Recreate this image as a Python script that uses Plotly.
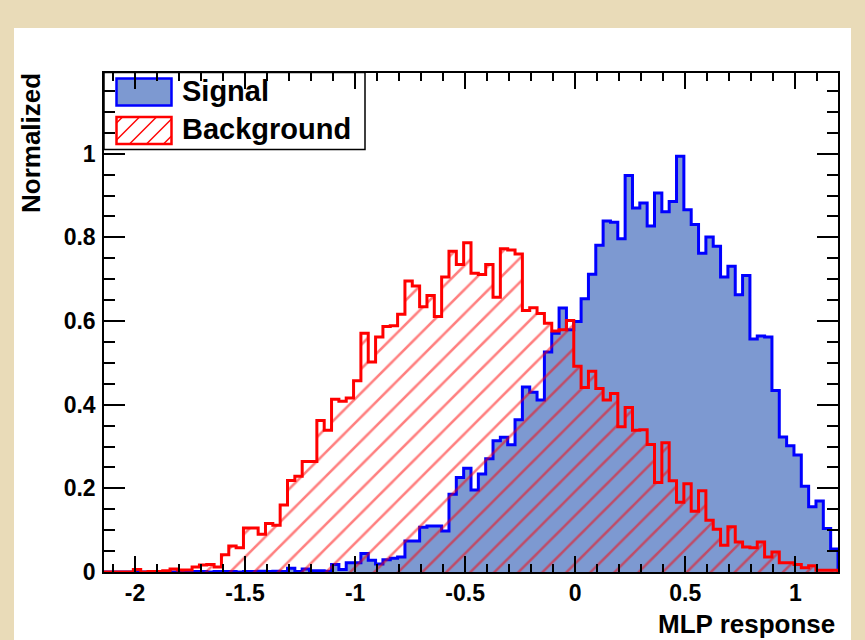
import numpy as np
import plotly.graph_objects as go

# ---------------- data ----------------
X_MIN, X_MAX, N_BINS = -2.141, 1.194, 100
Y_MAX = 1.193

series_names = ["Signal", "Background"]
x_title = "MLP response"
y_title = "Normalized"

signal = [
    0, 0, 0, 0, 0, 0, 0, 0, 0.001, 0,
    0.001, 0, 0.001, 0.001, 0, 0.001, 0.001, 0.001, 0, 0.001,
    0.001, 0.002, 0.001, 0.002, 0.001, 0.009, 0.001, 0.007, 0.003, 0.003,
    0.002, 0.018, 0.006, 0.022, 0.022, 0.044, 0.028, 0.019, 0.029, 0.033,
    0.036, 0.074, 0.074, 0.107, 0.110, 0.110, 0.098, 0.186, 0.226, 0.248,
    0.196, 0.234, 0.271, 0.314, 0.322, 0.304, 0.364, 0.442, 0.430, 0.411,
    0.526, 0.571, 0.631, 0.579, 0.599, 0.653, 0.712, 0.781, 0.839, 0.836,
    0.797, 0.948, 0.870, 0.882, 0.827, 0.906, 0.861, 0.886, 0.994, 0.866,
    0.831, 0.762, 0.801, 0.779, 0.705, 0.731, 0.663, 0.709, 0.557, 0.564,
    0.562, 0.434, 0.323, 0.302, 0.280, 0.205, 0.156, 0.170, 0.104, 0.055,
]

background = [
    0, 0, 0, 0, 0.006, 0, 0.001, 0.001, 0.003, 0.007,
    0.005, 0.005, 0.012, 0.017, 0.018, 0.012, 0.041, 0.062, 0.058, 0.105,
    0.105, 0.090, 0.116, 0.112, 0.160, 0.219, 0.229, 0.264, 0.264, 0.362,
    0.339, 0.413, 0.408, 0.416, 0.457, 0.571, 0.502, 0.562, 0.587, 0.589,
    0.616, 0.696, 0.684, 0.634, 0.661, 0.611, 0.705, 0.767, 0.735, 0.787,
    0.714, 0.711, 0.735, 0.657, 0.773, 0.770, 0.760, 0.625, 0.632, 0.618,
    0.595, 0.576, 0.579, 0.601, 0.492, 0.441, 0.480, 0.439, 0.411, 0.427,
    0.347, 0.393, 0.339, 0.340, 0.305, 0.214, 0.309, 0.218, 0.167, 0.211,
    0.145, 0.194, 0.124, 0.102, 0.064, 0.108, 0.072, 0.060, 0.058, 0.072,
    0.036, 0.048, 0.022, 0.022, 0.018, 0.010, 0.015, 0.004, 0.004, 0.004,
]

x_tick_vals = [-2, -1.5, -1, -0.5, 0, 0.5, 1]
x_tick_text = ["-2", "-1.5", "-1", "-0.5", "0", "0.5", "1"]
y_tick_vals = [0, 0.2, 0.4, 0.6, 0.8, 1.0]
y_tick_text = ["0", "0.2", "0.4", "0.6", "0.8", "1"]

# ---------------- styles ----------------
SIG_FILL = "#7d99d1"
SIG_LINE = "#0000ff"
BKG_LINE = "#ff0000"
HATCH = "#ff0000"
PAPER = "#e9dbb8"
FONT = "Liberation Sans"

W, H = 865, 640
ML, MR, MT, MB = 104, 27, 73, 68
PW, PH = W - ML - MR, H - MT - MB


def px_x(p):
    return (p - ML) / PW


def px_y(p):
    return (H - MB - p) / PH


edges = np.linspace(X_MIN, X_MAX, N_BINS + 1)


def step(vals):
    xs = [edges[0]] + list(edges[:-1]) + [edges[-1], edges[-1]]
    ys = [0] + list(vals) + [vals[-1], 0]
    return xs, ys


fig = go.Figure()

sx, sy = step(signal)
fig.add_trace(go.Scatter(
    x=sx, y=sy, mode="lines", line=dict(color=SIG_LINE, width=3, shape="hv"),
    fill="tozeroy", fillcolor=SIG_FILL, name=series_names[0], showlegend=False,
    hoverinfo="skip",
))

bx, by = step(background)
fig.add_trace(go.Scatter(
    x=bx, y=by, mode="lines", line=dict(color=BKG_LINE, width=3, shape="hv"),
    fill="tozeroy", fillcolor="rgba(0,0,0,0)",
    fillpattern=dict(shape="/", fgcolor=HATCH, bgcolor="rgba(0,0,0,0)",
                     size=17, solidity=0.15, fillmode="overlay"),
    name=series_names[1], showlegend=False, hoverinfo="skip",
))

shapes = []
# white canvas
shapes.append(dict(type="rect", xref="paper", yref="paper", layer="below",
                   x0=px_x(14), x1=px_x(851), y0=px_y(660), y1=px_y(28),
                   fillcolor="white", line=dict(width=0)))
# legend box
shapes.append(dict(type="rect", xref="paper", yref="paper", layer="below",
                   x0=px_x(104), x1=px_x(365), y0=px_y(149.5), y1=px_y(72.5),
                   fillcolor="white", line=dict(color="black", width=1.5)))
# signal swatch
shapes.append(dict(type="rect", xref="paper", yref="paper", layer="below",
                   x0=px_x(116.5), x1=px_x(171.5), y0=px_y(105.5), y1=px_y(78.5),
                   fillcolor=SIG_FILL, line=dict(color=SIG_LINE, width=2.5)))
# background swatch hatch lines
sx0, sx1, sy_top, sy_bot = 116.5, 171.5, 117, 144
hgt = sy_bot - sy_top
c = sx0 - hgt + 6
while c < sx1:
    xa, ua = c, 0.0
    xb, ub = c + hgt, hgt
    if xa < sx0:
        ua = sx0 - c
        xa = sx0
    if xb > sx1:
        ub = sx1 - c
        xb = sx1
    if xb > xa:
        shapes.append(dict(type="line", xref="paper", yref="paper", layer="below",
                           x0=px_x(xa), x1=px_x(xb), y0=px_y(sy_bot - ua), y1=px_y(sy_bot - ub),
                           line=dict(color=HATCH, width=1.5)))
    c += 17
shapes.append(dict(type="rect", xref="paper", yref="paper", layer="below",
                   x0=px_x(sx0), x1=px_x(sx1), y0=px_y(sy_bot), y1=px_y(sy_top),
                   fillcolor="rgba(0,0,0,0)", line=dict(color=BKG_LINE, width=2.5)))

annotations = [
    dict(text=series_names[0], xref="paper", yref="paper", x=px_x(180), y=px_y(91),
         xanchor="left", yanchor="middle", showarrow=False,
         font=dict(family=FONT, size=29, color="black", weight="bold")),
    dict(text=series_names[1], xref="paper", yref="paper", x=px_x(180), y=px_y(129),
         xanchor="left", yanchor="middle", showarrow=False,
         font=dict(family=FONT, size=29, color="black", weight="bold")),
    dict(text=x_title, xref="paper", yref="paper", x=px_x(837), y=px_y(624),
         xanchor="right", yanchor="middle", showarrow=False,
         font=dict(family=FONT, size=26, color="black", weight="bold")),
    dict(text=y_title, xref="paper", yref="paper", x=px_x(31), y=px_y(71),
         xanchor="center", yanchor="top", textangle=-90, showarrow=False,
         font=dict(family=FONT, size=26, color="black", weight="bold")),
]

tickfont = dict(family=FONT, size=23, color="black", weight="bold")

fig.update_layout(
    width=W, height=H, autosize=False,
    margin=dict(l=ML, r=MR, t=MT, b=MB, pad=0),
    paper_bgcolor=PAPER, plot_bgcolor="rgba(0,0,0,0)",
    shapes=shapes, annotations=annotations, showlegend=False,
    xaxis=dict(
        range=[X_MIN, X_MAX], showgrid=False, zeroline=False,
        showline=True, linecolor="black", linewidth=1.5, mirror="ticks",
        ticks="inside", ticklen=16, tickwidth=1.5, tickcolor="black",
        tickmode="array", tickvals=x_tick_vals, ticktext=x_tick_text,
        tickfont=tickfont, ticklabelstandoff=0,
        minor=dict(ticks="inside", ticklen=8, tickwidth=1.5, tickcolor="black",
                   tickmode="linear", tick0=0, dtick=0.1, showgrid=False),
    ),
    yaxis=dict(
        range=[0, Y_MAX], showgrid=False, zeroline=False,
        showline=True, linecolor="black", linewidth=1.5, mirror="ticks",
        ticks="inside", ticklen=21, tickwidth=1.5, tickcolor="black",
        tickmode="array", tickvals=y_tick_vals, ticktext=y_tick_text,
        tickfont=tickfont, ticklabelstandoff=2,
        minor=dict(ticks="inside", ticklen=11, tickwidth=1.5, tickcolor="black",
                   tickmode="linear", tick0=0, dtick=0.05, showgrid=False),
    ),
)

fig.write_html(
    "out.html",
    config={"displayModeBar": False},
    post_script="document.body.style.margin='0px';document.body.style.padding='0px';"
                "document.body.style.overflow='hidden';",
)
